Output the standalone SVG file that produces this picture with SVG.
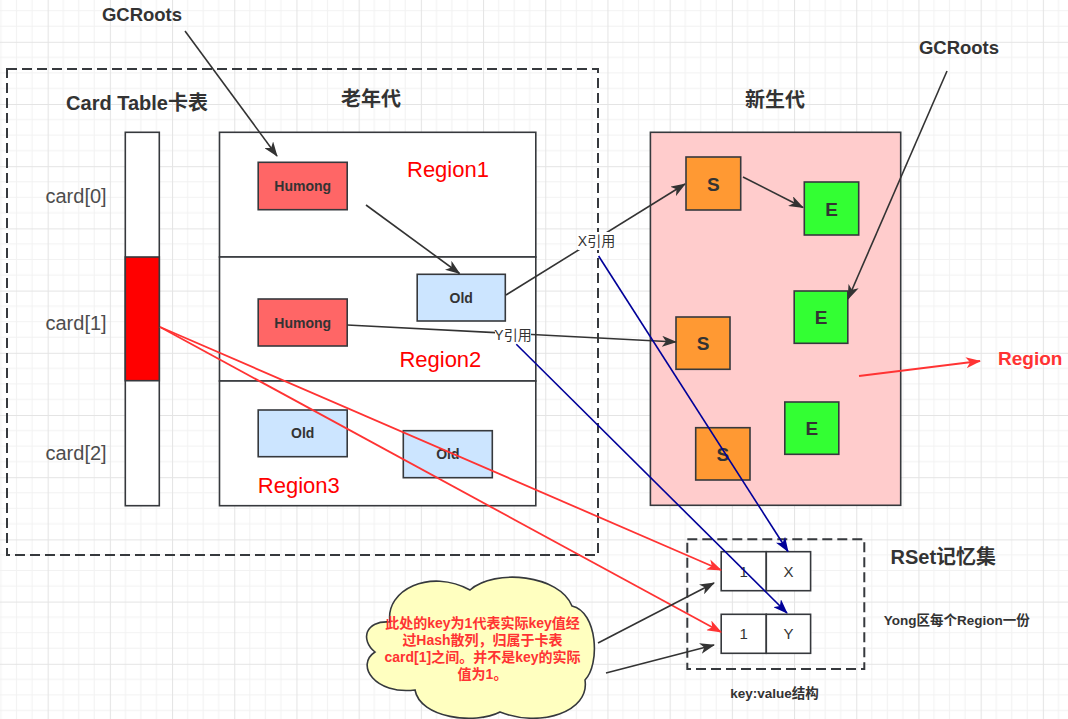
<svg xmlns="http://www.w3.org/2000/svg" width="1068" height="719" viewBox="0 0 1068 719">
<style>
text{font-family:"Liberation Sans","Noto Sans CJK SC",sans-serif}
.box{stroke:#36393d;stroke-width:1.6}
.dash{fill:none;stroke:#36393d;stroke-width:2;stroke-dasharray:10 5}
.lbl{fill:#333;font-weight:bold;text-anchor:middle}
.card{fill:#4d4d4d;font-size:20px}
.reg{fill:#ff0000;font-size:22px}
.title{fill:#333;font-weight:bold;font-size:20px;text-anchor:middle}
.dk{fill:none;stroke:#333;stroke-width:1.6}
.rd{fill:none;stroke:#ff3333;stroke-width:1.8}
.bl{fill:none;stroke:#000099;stroke-width:1.6}
.cell{fill:#333;font-size:15px;text-anchor:middle}
.note{fill:#ff3333;font-weight:bold;font-size:14px;text-anchor:middle}
.small{fill:#333;font-weight:bold;font-size:13.5px}
.reflbl{fill:#333;font-size:14px;text-anchor:middle}
</style>
<defs>
<pattern id="grid" patternUnits="userSpaceOnUse" x="47.65" y="41.8" width="62.2" height="62.2">
<rect width="62.2" height="62.2" fill="#ffffff"/>
<path d="M15.55 0V62.2M31.1 0V62.2M46.65 0V62.2M0 15.55H62.2M0 31.1H62.2M0 46.65H62.2" stroke="#f2f2f2" stroke-width="1"/>
<path d="M0.5 0V62.2M0 0.5H62.2" stroke="#e4e4e4" stroke-width="1"/>
</pattern>
<marker id="aDk" markerUnits="userSpaceOnUse" markerWidth="15" markerHeight="11" refX="14" refY="5.5" orient="auto">
<path d="M0,0 L15,5.5 L0,11 L4,5.5 z" fill="#333"/>
</marker>
<marker id="aRd" markerUnits="userSpaceOnUse" markerWidth="15" markerHeight="11" refX="14" refY="5.5" orient="auto">
<path d="M0,0 L15,5.5 L0,11 L4,5.5 z" fill="#ff3333"/>
</marker>
<marker id="aBl" markerUnits="userSpaceOnUse" markerWidth="15" markerHeight="11" refX="14" refY="5.5" orient="auto">
<path d="M0,0 L15,5.5 L0,11 L4,5.5 z" fill="#000099"/>
</marker>
</defs>
<rect width="1068" height="719" fill="url(#grid)"/>

<g id="oldgen-area">
<rect class="dash" x="7" y="69" width="591" height="486"/>
<text class="title" x="371" y="106">老年代</text>
</g>

<g id="card-table">
<text class="title" x="137" y="110" font-size="19px">Card Table卡表</text>
<rect class="box" x="125.3" y="132.3" width="34" height="373.4" fill="#ffffff"/>
<rect class="box" x="125.3" y="257" width="34" height="123.7" fill="#ff0000"/>
<text class="card" x="45.5" y="202.7">card[0]</text>
<text class="card" x="45.5" y="330">card[1]</text>
<text class="card" x="45.5" y="460">card[2]</text>
</g>

<g id="region1">
<rect class="box" x="219.5" y="132.3" width="316.3" height="124.7" fill="#ffffff"/>
<text class="reg" x="407" y="176.7">Region1</text>
</g>
<g id="region2">
<rect class="box" x="219.5" y="257" width="316.3" height="124" fill="#ffffff"/>
<text class="reg" x="399.4" y="366.7">Region2</text>
</g>
<g id="region3">
<rect class="box" x="219.5" y="381" width="316.3" height="124.7" fill="#ffffff"/>
<text class="reg" x="257.8" y="493.3">Region3</text>
</g>

<g id="humong1">
<rect class="box" x="258.2" y="162.3" width="89" height="47.4" fill="#ff6666"/>
<text class="lbl" x="302.7" y="191" font-size="14px">Humong</text>
</g>
<g id="old2">
<rect class="box" x="417.2" y="274.3" width="88.1" height="46.7" fill="#cce5ff"/>
<text class="lbl" x="461.2" y="302.6" font-size="14px">Old</text>
</g>
<g id="humong2">
<rect class="box" x="258.2" y="299" width="89" height="47" fill="#ff6666"/>
<text class="lbl" x="302.7" y="327.5" font-size="14px">Humong</text>
</g>
<g id="old3a">
<rect class="box" x="258.2" y="410" width="89" height="46.7" fill="#cce5ff"/>
<text class="lbl" x="302.7" y="438.3" font-size="14px">Old</text>
</g>
<g id="old3b">
<rect class="box" x="403.3" y="430.7" width="89" height="47" fill="#cce5ff"/>
<text class="lbl" x="447.8" y="459.2" font-size="14px">Old</text>
</g>

<g id="young-gen">
<text class="title" x="775" y="106.5">新生代</text>
<rect class="box" x="650.4" y="132.3" width="250.3" height="373" fill="#ffcccc"/>
</g>
<g id="s1">
<rect class="box" x="686" y="157" width="54.7" height="53" fill="#ff9933"/>
<text class="lbl" x="713.3" y="190.5" font-size="19px">S</text>
</g>
<g id="e1">
<rect class="box" x="804.3" y="182" width="54.4" height="53" fill="#33ff33"/>
<text class="lbl" x="831.5" y="215.5" font-size="19px">E</text>
</g>
<g id="e2">
<rect class="box" x="794.2" y="291" width="53.6" height="52.3" fill="#33ff33"/>
<text class="lbl" x="821" y="324" font-size="19px">E</text>
</g>
<g id="s2">
<rect class="box" x="676" y="317" width="54" height="52.3" fill="#ff9933"/>
<text class="lbl" x="703" y="350" font-size="19px">S</text>
</g>
<g id="e3">
<rect class="box" x="784.8" y="402" width="54" height="52.3" fill="#33ff33"/>
<text class="lbl" x="811.8" y="435" font-size="19px">E</text>
</g>
<g id="s3">
<rect class="box" x="695.7" y="427.7" width="54.3" height="52.3" fill="#ff9933"/>
<text class="lbl" x="722.8" y="460.7" font-size="19px">S</text>
</g>

<g id="gcroots-left">
<text class="lbl" x="142" y="21" font-size="18.5px">GCRoots</text>
</g>
<g id="gcroots-right">
<text class="lbl" x="959" y="54" font-size="18.5px">GCRoots</text>
</g>
<g id="region-label">
<text x="998" y="365" fill="#ff3333" font-weight="bold" font-size="19px">Region</text>
</g>

<g id="rset">
<rect class="dash" x="687.3" y="539.3" width="177" height="129.7"/>
<rect class="box" x="721.2" y="551.7" width="45.1" height="39" fill="#ffffff"/>
<rect class="box" x="766.3" y="551.7" width="44.3" height="39" fill="#ffffff"/>
<rect class="box" x="721.2" y="614.3" width="45.1" height="39" fill="#ffffff"/>
<rect class="box" x="766.3" y="614.3" width="44.3" height="39" fill="#ffffff"/>
<text class="cell" x="743.7" y="576.5">1</text>
<text class="cell" x="788.5" y="576.5">X</text>
<text class="cell" x="743.7" y="639">1</text>
<text class="cell" x="788.5" y="639">Y</text>
<text x="890.5" y="564" fill="#333" font-weight="bold" font-size="20px">RSet记忆集</text>
<text class="small" x="883.7" y="625">Yong区每个Region一份</text>
<text class="small" x="730.2" y="698">key:value结构</text>
</g>

<g id="note-cloud">
<path d="M390 622 C385 590 430 568 470 590 C495 568 560 575 572 606 C598 612 600 665 585 680 C590 712 540 728 500 712 C475 725 420 718 415 690 C375 695 355 665 375 652 C360 640 365 620 390 622 Z" fill="#ffffc0" stroke="#36393d" stroke-width="1.6"/>
<text class="note" x="482.5" y="628">此处的key为1代表实际key值经</text>
<text class="note" x="482.5" y="645">过Hash散列，归属于卡表</text>
<text class="note" x="482.5" y="662">card[1]之间。并不是key的实际</text>
<text class="note" x="482.5" y="679">值为1。</text>
</g>

<g id="connectors">
<line class="dk" x1="185" y1="31" x2="277" y2="156" marker-end="url(#aDk)"/>
<line class="dk" x1="366" y1="205" x2="459.5" y2="273.5" marker-end="url(#aDk)"/>
<line class="dk" x1="506" y1="295" x2="685" y2="184" marker-end="url(#aDk)"/>
<line class="dk" x1="347.2" y1="325" x2="676" y2="342" marker-end="url(#aDk)"/>
<line class="dk" x1="743" y1="177" x2="803" y2="207.5" marker-end="url(#aDk)"/>
<line class="dk" x1="947" y1="71" x2="848" y2="299" marker-end="url(#aDk)"/>
<line class="rd" x1="859" y1="376" x2="980" y2="361" marker-end="url(#aRd)"/>
<rect x="578" y="232" width="37" height="18" fill="#ffffff"/>
<text class="reflbl" x="596.5" y="246">X引用</text>
<rect x="495" y="326" width="36" height="17" fill="#ffffff"/>
<text class="reflbl" x="513" y="339.5">Y引用</text>
<line class="bl" x1="598.6" y1="256" x2="788" y2="551.5" marker-end="url(#aBl)"/>
<line class="bl" x1="516.3" y1="344.3" x2="787" y2="613" marker-end="url(#aBl)"/>
<line class="rd" x1="160" y1="327" x2="721" y2="570" marker-end="url(#aRd)"/>
<line class="rd" x1="160" y1="327" x2="721" y2="632" marker-end="url(#aRd)"/>
<line class="dk" x1="598" y1="643" x2="714" y2="583" marker-end="url(#aDk)"/>
<line class="dk" x1="606" y1="673" x2="714" y2="645" marker-end="url(#aDk)"/>
</g>
</svg>
